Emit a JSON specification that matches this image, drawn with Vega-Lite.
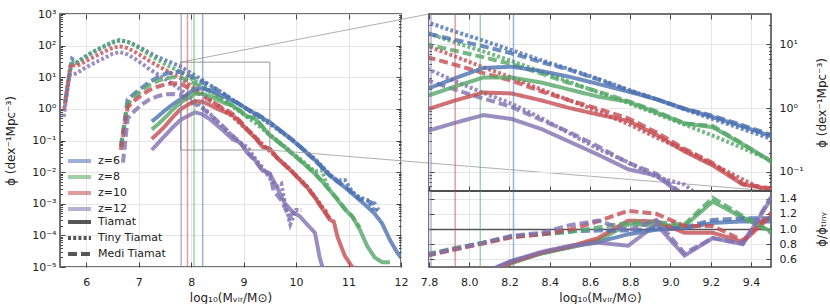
{
"$schema":"https://vega.github.io/schema/vega-lite/v6.json",
"background":"white",
"padding":{"left":3,"top":7,"right":0,"bottom":0},
"config":{
 "font":"DejaVu Sans",
 "view":{"stroke":"#444","strokeWidth":1.5},
 "axis":{"labelFont":"DejaVu Sans","titleFont":"DejaVu Sans","labelFontSize":11,"titleFontSize":12,"titleFontWeight":"normal","labelColor":"#222","titleColor":"#222","gridColor":"#e6e6e6","gridWidth":1,"domain":false,"tickColor":"#444","labelOverlap":false,"labelFlush":false},
 "legend":{"labelFont":"DejaVu Sans","labelFontSize":11,"labelColor":"#222"}
},
"datasets":{
 "curves":[
{"sim":"Tiny Tiamat","z":"z=6","logM":5.60,"logPhi":0.25},{"sim":"Tiny Tiamat","z":"z=6","logM":5.73,"logPhi":1.58},{"sim":"Tiny Tiamat","z":"z=6","logM":5.82,"logPhi":1.48},{"sim":"Tiny Tiamat","z":"z=6","logM":5.93,"logPhi":1.60},{"sim":"Tiny Tiamat","z":"z=6","logM":6.07,"logPhi":1.74},{"sim":"Tiny Tiamat","z":"z=6","logM":6.21,"logPhi":1.86},{"sim":"Tiny Tiamat","z":"z=6","logM":6.36,"logPhi":1.98},{"sim":"Tiny Tiamat","z":"z=6","logM":6.50,"logPhi":2.09},{"sim":"Tiny Tiamat","z":"z=6","logM":6.64,"logPhi":2.16},{"sim":"Tiny Tiamat","z":"z=6","logM":6.79,"logPhi":2.12},{"sim":"Tiny Tiamat","z":"z=6","logM":6.93,"logPhi":2.02},{"sim":"Tiny Tiamat","z":"z=6","logM":7.07,"logPhi":1.90},{"sim":"Tiny Tiamat","z":"z=6","logM":7.21,"logPhi":1.77},{"sim":"Tiny Tiamat","z":"z=6","logM":7.36,"logPhi":1.64},{"sim":"Tiny Tiamat","z":"z=6","logM":7.50,"logPhi":1.54},{"sim":"Tiny Tiamat","z":"z=6","logM":7.64,"logPhi":1.45},{"sim":"Tiny Tiamat","z":"z=6","logM":7.79,"logPhi":1.35},{"sim":"Tiny Tiamat","z":"z=6","logM":7.93,"logPhi":1.20},{"sim":"Tiny Tiamat","z":"z=6","logM":8.07,"logPhi":1.06},{"sim":"Tiny Tiamat","z":"z=6","logM":8.21,"logPhi":0.91},{"sim":"Tiny Tiamat","z":"z=6","logM":8.36,"logPhi":0.75},{"sim":"Tiny Tiamat","z":"z=6","logM":8.50,"logPhi":0.61},{"sim":"Tiny Tiamat","z":"z=6","logM":8.64,"logPhi":0.46},{"sim":"Tiny Tiamat","z":"z=6","logM":8.79,"logPhi":0.29},{"sim":"Tiny Tiamat","z":"z=6","logM":8.93,"logPhi":0.14},{"sim":"Tiny Tiamat","z":"z=6","logM":9.07,"logPhi":-0.02},{"sim":"Tiny Tiamat","z":"z=6","logM":9.21,"logPhi":-0.17},{"sim":"Tiny Tiamat","z":"z=6","logM":9.36,"logPhi":-0.33},{"sim":"Tiny Tiamat","z":"z=6","logM":9.50,"logPhi":-0.48},{"sim":"Tiny Tiamat","z":"z=6","logM":9.64,"logPhi":-0.64},{"sim":"Tiny Tiamat","z":"z=6","logM":9.79,"logPhi":-0.82},{"sim":"Tiny Tiamat","z":"z=6","logM":9.93,"logPhi":-1.00},{"sim":"Tiny Tiamat","z":"z=6","logM":10.07,"logPhi":-1.18},{"sim":"Tiny Tiamat","z":"z=6","logM":10.21,"logPhi":-1.38},{"sim":"Tiny Tiamat","z":"z=6","logM":10.36,"logPhi":-1.58},{"sim":"Tiny Tiamat","z":"z=6","logM":10.50,"logPhi":-1.83},{"sim":"Tiny Tiamat","z":"z=6","logM":10.64,"logPhi":-2.07},{"sim":"Tiny Tiamat","z":"z=6","logM":10.79,"logPhi":-2.27},{"sim":"Tiny Tiamat","z":"z=6","logM":10.93,"logPhi":-2.25},{"sim":"Tiny Tiamat","z":"z=6","logM":11.07,"logPhi":-2.62},{"sim":"Tiny Tiamat","z":"z=6","logM":11.21,"logPhi":-2.80},{"sim":"Tiny Tiamat","z":"z=6","logM":11.36,"logPhi":-2.88},{"sim":"Tiny Tiamat","z":"z=6","logM":11.50,"logPhi":-3.25},{"sim":"Tiny Tiamat","z":"z=6","logM":11.57,"logPhi":-3.10},
{"sim":"Tiny Tiamat","z":"z=8","logM":5.60,"logPhi":0.20},{"sim":"Tiny Tiamat","z":"z=8","logM":5.72,"logPhi":1.50},{"sim":"Tiny Tiamat","z":"z=8","logM":5.82,"logPhi":1.45},{"sim":"Tiny Tiamat","z":"z=8","logM":5.93,"logPhi":1.58},{"sim":"Tiny Tiamat","z":"z=8","logM":6.07,"logPhi":1.74},{"sim":"Tiny Tiamat","z":"z=8","logM":6.21,"logPhi":1.88},{"sim":"Tiny Tiamat","z":"z=8","logM":6.36,"logPhi":2.00},{"sim":"Tiny Tiamat","z":"z=8","logM":6.50,"logPhi":2.12},{"sim":"Tiny Tiamat","z":"z=8","logM":6.64,"logPhi":2.18},{"sim":"Tiny Tiamat","z":"z=8","logM":6.79,"logPhi":2.12},{"sim":"Tiny Tiamat","z":"z=8","logM":6.93,"logPhi":2.00},{"sim":"Tiny Tiamat","z":"z=8","logM":7.07,"logPhi":1.85},{"sim":"Tiny Tiamat","z":"z=8","logM":7.21,"logPhi":1.70},{"sim":"Tiny Tiamat","z":"z=8","logM":7.36,"logPhi":1.55},{"sim":"Tiny Tiamat","z":"z=8","logM":7.50,"logPhi":1.42},{"sim":"Tiny Tiamat","z":"z=8","logM":7.64,"logPhi":1.30},{"sim":"Tiny Tiamat","z":"z=8","logM":7.79,"logPhi":1.18},{"sim":"Tiny Tiamat","z":"z=8","logM":7.93,"logPhi":1.03},{"sim":"Tiny Tiamat","z":"z=8","logM":8.07,"logPhi":0.89},{"sim":"Tiny Tiamat","z":"z=8","logM":8.21,"logPhi":0.74},{"sim":"Tiny Tiamat","z":"z=8","logM":8.36,"logPhi":0.57},{"sim":"Tiny Tiamat","z":"z=8","logM":8.50,"logPhi":0.41},{"sim":"Tiny Tiamat","z":"z=8","logM":8.64,"logPhi":0.25},{"sim":"Tiny Tiamat","z":"z=8","logM":8.79,"logPhi":0.08},{"sim":"Tiny Tiamat","z":"z=8","logM":8.93,"logPhi":-0.09},{"sim":"Tiny Tiamat","z":"z=8","logM":9.07,"logPhi":-0.26},{"sim":"Tiny Tiamat","z":"z=8","logM":9.21,"logPhi":-0.43},{"sim":"Tiny Tiamat","z":"z=8","logM":9.36,"logPhi":-0.63},{"sim":"Tiny Tiamat","z":"z=8","logM":9.50,"logPhi":-0.82},{"sim":"Tiny Tiamat","z":"z=8","logM":9.64,"logPhi":-1.00},{"sim":"Tiny Tiamat","z":"z=8","logM":9.79,"logPhi":-1.20},{"sim":"Tiny Tiamat","z":"z=8","logM":9.93,"logPhi":-1.40},{"sim":"Tiny Tiamat","z":"z=8","logM":10.07,"logPhi":-1.58},{"sim":"Tiny Tiamat","z":"z=8","logM":10.21,"logPhi":-1.78},{"sim":"Tiny Tiamat","z":"z=8","logM":10.36,"logPhi":-1.98},{"sim":"Tiny Tiamat","z":"z=8","logM":10.50,"logPhi":-1.95},{"sim":"Tiny Tiamat","z":"z=8","logM":10.57,"logPhi":-2.35},{"sim":"Tiny Tiamat","z":"z=8","logM":10.64,"logPhi":-2.50},
{"sim":"Tiny Tiamat","z":"z=10","logM":5.58,"logPhi":0.00},{"sim":"Tiny Tiamat","z":"z=10","logM":5.70,"logPhi":1.40},{"sim":"Tiny Tiamat","z":"z=10","logM":5.82,"logPhi":1.35},{"sim":"Tiny Tiamat","z":"z=10","logM":5.93,"logPhi":1.45},{"sim":"Tiny Tiamat","z":"z=10","logM":6.07,"logPhi":1.58},{"sim":"Tiny Tiamat","z":"z=10","logM":6.21,"logPhi":1.70},{"sim":"Tiny Tiamat","z":"z=10","logM":6.36,"logPhi":1.82},{"sim":"Tiny Tiamat","z":"z=10","logM":6.50,"logPhi":1.93},{"sim":"Tiny Tiamat","z":"z=10","logM":6.64,"logPhi":1.98},{"sim":"Tiny Tiamat","z":"z=10","logM":6.79,"logPhi":1.92},{"sim":"Tiny Tiamat","z":"z=10","logM":6.93,"logPhi":1.80},{"sim":"Tiny Tiamat","z":"z=10","logM":7.07,"logPhi":1.66},{"sim":"Tiny Tiamat","z":"z=10","logM":7.21,"logPhi":1.51},{"sim":"Tiny Tiamat","z":"z=10","logM":7.36,"logPhi":1.37},{"sim":"Tiny Tiamat","z":"z=10","logM":7.50,"logPhi":1.24},{"sim":"Tiny Tiamat","z":"z=10","logM":7.64,"logPhi":1.11},{"sim":"Tiny Tiamat","z":"z=10","logM":7.79,"logPhi":0.98},{"sim":"Tiny Tiamat","z":"z=10","logM":7.93,"logPhi":0.81},{"sim":"Tiny Tiamat","z":"z=10","logM":8.07,"logPhi":0.64},{"sim":"Tiny Tiamat","z":"z=10","logM":8.21,"logPhi":0.48},{"sim":"Tiny Tiamat","z":"z=10","logM":8.36,"logPhi":0.29},{"sim":"Tiny Tiamat","z":"z=10","logM":8.50,"logPhi":0.12},{"sim":"Tiny Tiamat","z":"z=10","logM":8.64,"logPhi":-0.05},{"sim":"Tiny Tiamat","z":"z=10","logM":8.79,"logPhi":-0.25},{"sim":"Tiny Tiamat","z":"z=10","logM":8.93,"logPhi":-0.46},{"sim":"Tiny Tiamat","z":"z=10","logM":9.07,"logPhi":-0.66},{"sim":"Tiny Tiamat","z":"z=10","logM":9.21,"logPhi":-0.88},{"sim":"Tiny Tiamat","z":"z=10","logM":9.36,"logPhi":-1.12},{"sim":"Tiny Tiamat","z":"z=10","logM":9.50,"logPhi":-1.34},{"sim":"Tiny Tiamat","z":"z=10","logM":9.64,"logPhi":-1.55},{"sim":"Tiny Tiamat","z":"z=10","logM":9.79,"logPhi":-1.76},{"sim":"Tiny Tiamat","z":"z=10","logM":9.93,"logPhi":-1.98},{"sim":"Tiny Tiamat","z":"z=10","logM":10.07,"logPhi":-2.22},{"sim":"Tiny Tiamat","z":"z=10","logM":10.21,"logPhi":-2.45},{"sim":"Tiny Tiamat","z":"z=10","logM":10.36,"logPhi":-2.78},{"sim":"Tiny Tiamat","z":"z=10","logM":10.50,"logPhi":-3.10},{"sim":"Tiny Tiamat","z":"z=10","logM":10.60,"logPhi":-3.30},
{"sim":"Tiny Tiamat","z":"z=12","logM":5.57,"logPhi":-0.25},{"sim":"Tiny Tiamat","z":"z=12","logM":5.68,"logPhi":1.08},{"sim":"Tiny Tiamat","z":"z=12","logM":5.82,"logPhi":1.12},{"sim":"Tiny Tiamat","z":"z=12","logM":5.93,"logPhi":1.25},{"sim":"Tiny Tiamat","z":"z=12","logM":6.07,"logPhi":1.38},{"sim":"Tiny Tiamat","z":"z=12","logM":6.21,"logPhi":1.50},{"sim":"Tiny Tiamat","z":"z=12","logM":6.36,"logPhi":1.62},{"sim":"Tiny Tiamat","z":"z=12","logM":6.50,"logPhi":1.74},{"sim":"Tiny Tiamat","z":"z=12","logM":6.64,"logPhi":1.80},{"sim":"Tiny Tiamat","z":"z=12","logM":6.79,"logPhi":1.72},{"sim":"Tiny Tiamat","z":"z=12","logM":6.93,"logPhi":1.58},{"sim":"Tiny Tiamat","z":"z=12","logM":7.07,"logPhi":1.42},{"sim":"Tiny Tiamat","z":"z=12","logM":7.21,"logPhi":1.25},{"sim":"Tiny Tiamat","z":"z=12","logM":7.36,"logPhi":1.10},{"sim":"Tiny Tiamat","z":"z=12","logM":7.50,"logPhi":0.95},{"sim":"Tiny Tiamat","z":"z=12","logM":7.64,"logPhi":0.79},{"sim":"Tiny Tiamat","z":"z=12","logM":7.79,"logPhi":0.62},{"sim":"Tiny Tiamat","z":"z=12","logM":7.93,"logPhi":0.42},{"sim":"Tiny Tiamat","z":"z=12","logM":8.07,"logPhi":0.24},{"sim":"Tiny Tiamat","z":"z=12","logM":8.21,"logPhi":0.07},{"sim":"Tiny Tiamat","z":"z=12","logM":8.36,"logPhi":-0.16},{"sim":"Tiny Tiamat","z":"z=12","logM":8.50,"logPhi":-0.40},{"sim":"Tiny Tiamat","z":"z=12","logM":8.64,"logPhi":-0.64},{"sim":"Tiny Tiamat","z":"z=12","logM":8.79,"logPhi":-0.85},{"sim":"Tiny Tiamat","z":"z=12","logM":8.93,"logPhi":-1.08},{"sim":"Tiny Tiamat","z":"z=12","logM":9.07,"logPhi":-1.20},{"sim":"Tiny Tiamat","z":"z=12","logM":9.21,"logPhi":-1.55},{"sim":"Tiny Tiamat","z":"z=12","logM":9.36,"logPhi":-1.85},{"sim":"Tiny Tiamat","z":"z=12","logM":9.50,"logPhi":-2.20},{"sim":"Tiny Tiamat","z":"z=12","logM":9.64,"logPhi":-2.45},{"sim":"Tiny Tiamat","z":"z=12","logM":9.72,"logPhi":-2.37},{"sim":"Tiny Tiamat","z":"z=12","logM":9.79,"logPhi":-3.00},{"sim":"Tiny Tiamat","z":"z=12","logM":9.89,"logPhi":-3.65},{"sim":"Tiny Tiamat","z":"z=12","logM":10.00,"logPhi":-3.20},{"sim":"Tiny Tiamat","z":"z=12","logM":10.10,"logPhi":-3.20},
{"sim":"Medi Tiamat","z":"z=6","logM":6.66,"logPhi":-1.20},{"sim":"Medi Tiamat","z":"z=6","logM":6.79,"logPhi":0.30},{"sim":"Medi Tiamat","z":"z=6","logM":6.93,"logPhi":0.50},{"sim":"Medi Tiamat","z":"z=6","logM":7.07,"logPhi":0.68},{"sim":"Medi Tiamat","z":"z=6","logM":7.21,"logPhi":0.85},{"sim":"Medi Tiamat","z":"z=6","logM":7.36,"logPhi":1.00},{"sim":"Medi Tiamat","z":"z=6","logM":7.50,"logPhi":1.10},{"sim":"Medi Tiamat","z":"z=6","logM":7.64,"logPhi":1.16},{"sim":"Medi Tiamat","z":"z=6","logM":7.79,"logPhi":1.17},{"sim":"Medi Tiamat","z":"z=6","logM":7.93,"logPhi":1.07},{"sim":"Medi Tiamat","z":"z=6","logM":8.07,"logPhi":0.97},{"sim":"Medi Tiamat","z":"z=6","logM":8.21,"logPhi":0.86},{"sim":"Medi Tiamat","z":"z=6","logM":8.36,"logPhi":0.72},{"sim":"Medi Tiamat","z":"z=6","logM":8.50,"logPhi":0.60},{"sim":"Medi Tiamat","z":"z=6","logM":8.64,"logPhi":0.45},{"sim":"Medi Tiamat","z":"z=6","logM":8.79,"logPhi":0.28},{"sim":"Medi Tiamat","z":"z=6","logM":8.93,"logPhi":0.14},{"sim":"Medi Tiamat","z":"z=6","logM":9.07,"logPhi":-0.01},{"sim":"Medi Tiamat","z":"z=6","logM":9.21,"logPhi":-0.12},{"sim":"Medi Tiamat","z":"z=6","logM":9.36,"logPhi":-0.27},{"sim":"Medi Tiamat","z":"z=6","logM":9.50,"logPhi":-0.42},{"sim":"Medi Tiamat","z":"z=6","logM":9.64,"logPhi":-0.62},{"sim":"Medi Tiamat","z":"z=6","logM":9.79,"logPhi":-0.80},{"sim":"Medi Tiamat","z":"z=6","logM":9.93,"logPhi":-0.98},{"sim":"Medi Tiamat","z":"z=6","logM":10.07,"logPhi":-1.18},{"sim":"Medi Tiamat","z":"z=6","logM":10.21,"logPhi":-1.40},{"sim":"Medi Tiamat","z":"z=6","logM":10.36,"logPhi":-1.62},{"sim":"Medi Tiamat","z":"z=6","logM":10.50,"logPhi":-1.86},{"sim":"Medi Tiamat","z":"z=6","logM":10.64,"logPhi":-2.10},{"sim":"Medi Tiamat","z":"z=6","logM":10.79,"logPhi":-2.30},{"sim":"Medi Tiamat","z":"z=6","logM":10.93,"logPhi":-2.45},{"sim":"Medi Tiamat","z":"z=6","logM":11.07,"logPhi":-2.65},{"sim":"Medi Tiamat","z":"z=6","logM":11.21,"logPhi":-2.85},{"sim":"Medi Tiamat","z":"z=6","logM":11.36,"logPhi":-2.92},{"sim":"Medi Tiamat","z":"z=6","logM":11.50,"logPhi":-3.00},{"sim":"Medi Tiamat","z":"z=6","logM":11.57,"logPhi":-3.20},
{"sim":"Medi Tiamat","z":"z=8","logM":6.66,"logPhi":-1.20},{"sim":"Medi Tiamat","z":"z=8","logM":6.79,"logPhi":0.15},{"sim":"Medi Tiamat","z":"z=8","logM":6.93,"logPhi":0.40},{"sim":"Medi Tiamat","z":"z=8","logM":7.07,"logPhi":0.60},{"sim":"Medi Tiamat","z":"z=8","logM":7.21,"logPhi":0.76},{"sim":"Medi Tiamat","z":"z=8","logM":7.36,"logPhi":0.88},{"sim":"Medi Tiamat","z":"z=8","logM":7.50,"logPhi":0.96},{"sim":"Medi Tiamat","z":"z=8","logM":7.64,"logPhi":1.00},{"sim":"Medi Tiamat","z":"z=8","logM":7.79,"logPhi":1.00},{"sim":"Medi Tiamat","z":"z=8","logM":7.93,"logPhi":0.90},{"sim":"Medi Tiamat","z":"z=8","logM":8.07,"logPhi":0.80},{"sim":"Medi Tiamat","z":"z=8","logM":8.21,"logPhi":0.69},{"sim":"Medi Tiamat","z":"z=8","logM":8.36,"logPhi":0.54},{"sim":"Medi Tiamat","z":"z=8","logM":8.50,"logPhi":0.39},{"sim":"Medi Tiamat","z":"z=8","logM":8.64,"logPhi":0.26},{"sim":"Medi Tiamat","z":"z=8","logM":8.79,"logPhi":0.11},{"sim":"Medi Tiamat","z":"z=8","logM":8.93,"logPhi":-0.05},{"sim":"Medi Tiamat","z":"z=8","logM":9.07,"logPhi":-0.24},{"sim":"Medi Tiamat","z":"z=8","logM":9.21,"logPhi":-0.28},{"sim":"Medi Tiamat","z":"z=8","logM":9.36,"logPhi":-0.56},{"sim":"Medi Tiamat","z":"z=8","logM":9.50,"logPhi":-0.84},{"sim":"Medi Tiamat","z":"z=8","logM":9.64,"logPhi":-1.02},{"sim":"Medi Tiamat","z":"z=8","logM":9.79,"logPhi":-1.22},{"sim":"Medi Tiamat","z":"z=8","logM":9.93,"logPhi":-1.42},{"sim":"Medi Tiamat","z":"z=8","logM":10.07,"logPhi":-1.62},{"sim":"Medi Tiamat","z":"z=8","logM":10.21,"logPhi":-1.82},{"sim":"Medi Tiamat","z":"z=8","logM":10.36,"logPhi":-2.05},{"sim":"Medi Tiamat","z":"z=8","logM":10.50,"logPhi":-2.30},{"sim":"Medi Tiamat","z":"z=8","logM":10.64,"logPhi":-2.57},{"sim":"Medi Tiamat","z":"z=8","logM":10.79,"logPhi":-2.85},{"sim":"Medi Tiamat","z":"z=8","logM":10.93,"logPhi":-3.15},{"sim":"Medi Tiamat","z":"z=8","logM":11.07,"logPhi":-3.40},{"sim":"Medi Tiamat","z":"z=8","logM":11.21,"logPhi":-3.75},
{"sim":"Medi Tiamat","z":"z=10","logM":6.66,"logPhi":-1.30},{"sim":"Medi Tiamat","z":"z=10","logM":6.79,"logPhi":0.05},{"sim":"Medi Tiamat","z":"z=10","logM":6.93,"logPhi":0.28},{"sim":"Medi Tiamat","z":"z=10","logM":7.07,"logPhi":0.45},{"sim":"Medi Tiamat","z":"z=10","logM":7.21,"logPhi":0.60},{"sim":"Medi Tiamat","z":"z=10","logM":7.36,"logPhi":0.70},{"sim":"Medi Tiamat","z":"z=10","logM":7.50,"logPhi":0.77},{"sim":"Medi Tiamat","z":"z=10","logM":7.64,"logPhi":0.81},{"sim":"Medi Tiamat","z":"z=10","logM":7.79,"logPhi":0.80},{"sim":"Medi Tiamat","z":"z=10","logM":7.93,"logPhi":0.68},{"sim":"Medi Tiamat","z":"z=10","logM":8.07,"logPhi":0.55},{"sim":"Medi Tiamat","z":"z=10","logM":8.21,"logPhi":0.43},{"sim":"Medi Tiamat","z":"z=10","logM":8.36,"logPhi":0.26},{"sim":"Medi Tiamat","z":"z=10","logM":8.50,"logPhi":0.12},{"sim":"Medi Tiamat","z":"z=10","logM":8.64,"logPhi":-0.01},{"sim":"Medi Tiamat","z":"z=10","logM":8.79,"logPhi":-0.16},{"sim":"Medi Tiamat","z":"z=10","logM":8.93,"logPhi":-0.38},{"sim":"Medi Tiamat","z":"z=10","logM":9.07,"logPhi":-0.64},{"sim":"Medi Tiamat","z":"z=10","logM":9.21,"logPhi":-0.86},{"sim":"Medi Tiamat","z":"z=10","logM":9.36,"logPhi":-1.19},{"sim":"Medi Tiamat","z":"z=10","logM":9.50,"logPhi":-1.26},{"sim":"Medi Tiamat","z":"z=10","logM":9.64,"logPhi":-1.55},{"sim":"Medi Tiamat","z":"z=10","logM":9.79,"logPhi":-1.78},{"sim":"Medi Tiamat","z":"z=10","logM":9.93,"logPhi":-2.00},{"sim":"Medi Tiamat","z":"z=10","logM":10.07,"logPhi":-2.24},{"sim":"Medi Tiamat","z":"z=10","logM":10.21,"logPhi":-2.48},{"sim":"Medi Tiamat","z":"z=10","logM":10.36,"logPhi":-2.80},{"sim":"Medi Tiamat","z":"z=10","logM":10.50,"logPhi":-3.15},{"sim":"Medi Tiamat","z":"z=10","logM":10.64,"logPhi":-3.45},{"sim":"Medi Tiamat","z":"z=10","logM":10.72,"logPhi":-3.55},
{"sim":"Medi Tiamat","z":"z=12","logM":6.70,"logPhi":-1.70},{"sim":"Medi Tiamat","z":"z=12","logM":6.79,"logPhi":-0.30},{"sim":"Medi Tiamat","z":"z=12","logM":6.93,"logPhi":-0.05},{"sim":"Medi Tiamat","z":"z=12","logM":7.07,"logPhi":0.15},{"sim":"Medi Tiamat","z":"z=12","logM":7.21,"logPhi":0.30},{"sim":"Medi Tiamat","z":"z=12","logM":7.36,"logPhi":0.40},{"sim":"Medi Tiamat","z":"z=12","logM":7.50,"logPhi":0.46},{"sim":"Medi Tiamat","z":"z=12","logM":7.64,"logPhi":0.47},{"sim":"Medi Tiamat","z":"z=12","logM":7.79,"logPhi":0.44},{"sim":"Medi Tiamat","z":"z=12","logM":7.93,"logPhi":0.29},{"sim":"Medi Tiamat","z":"z=12","logM":8.07,"logPhi":0.15},{"sim":"Medi Tiamat","z":"z=12","logM":8.21,"logPhi":0.02},{"sim":"Medi Tiamat","z":"z=12","logM":8.36,"logPhi":-0.19},{"sim":"Medi Tiamat","z":"z=12","logM":8.50,"logPhi":-0.38},{"sim":"Medi Tiamat","z":"z=12","logM":8.64,"logPhi":-0.60},{"sim":"Medi Tiamat","z":"z=12","logM":8.79,"logPhi":-0.86},{"sim":"Medi Tiamat","z":"z=12","logM":8.93,"logPhi":-1.03},{"sim":"Medi Tiamat","z":"z=12","logM":9.07,"logPhi":-1.37},{"sim":"Medi Tiamat","z":"z=12","logM":9.21,"logPhi":-1.61},{"sim":"Medi Tiamat","z":"z=12","logM":9.36,"logPhi":-1.94},{"sim":"Medi Tiamat","z":"z=12","logM":9.50,"logPhi":-2.05},{"sim":"Medi Tiamat","z":"z=12","logM":9.57,"logPhi":-2.58},{"sim":"Medi Tiamat","z":"z=12","logM":9.72,"logPhi":-2.90},{"sim":"Medi Tiamat","z":"z=12","logM":9.87,"logPhi":-3.42},{"sim":"Medi Tiamat","z":"z=12","logM":10.00,"logPhi":-3.20},
{"sim":"Tiamat","z":"z=6","logM":7.25,"logPhi":-0.40},{"sim":"Tiamat","z":"z=6","logM":7.36,"logPhi":-0.25},{"sim":"Tiamat","z":"z=6","logM":7.50,"logPhi":-0.05},{"sim":"Tiamat","z":"z=6","logM":7.64,"logPhi":0.13},{"sim":"Tiamat","z":"z=6","logM":7.79,"logPhi":0.30},{"sim":"Tiamat","z":"z=6","logM":7.93,"logPhi":0.47},{"sim":"Tiamat","z":"z=6","logM":8.07,"logPhi":0.63},{"sim":"Tiamat","z":"z=6","logM":8.21,"logPhi":0.65},{"sim":"Tiamat","z":"z=6","logM":8.36,"logPhi":0.58},{"sim":"Tiamat","z":"z=6","logM":8.50,"logPhi":0.49},{"sim":"Tiamat","z":"z=6","logM":8.64,"logPhi":0.38},{"sim":"Tiamat","z":"z=6","logM":8.79,"logPhi":0.26},{"sim":"Tiamat","z":"z=6","logM":8.93,"logPhi":0.14},{"sim":"Tiamat","z":"z=6","logM":9.07,"logPhi":-0.01},{"sim":"Tiamat","z":"z=6","logM":9.21,"logPhi":-0.14},{"sim":"Tiamat","z":"z=6","logM":9.36,"logPhi":-0.29},{"sim":"Tiamat","z":"z=6","logM":9.50,"logPhi":-0.44},{"sim":"Tiamat","z":"z=6","logM":9.64,"logPhi":-0.60},{"sim":"Tiamat","z":"z=6","logM":9.79,"logPhi":-0.80},{"sim":"Tiamat","z":"z=6","logM":9.93,"logPhi":-0.99},{"sim":"Tiamat","z":"z=6","logM":10.07,"logPhi":-1.19},{"sim":"Tiamat","z":"z=6","logM":10.21,"logPhi":-1.40},{"sim":"Tiamat","z":"z=6","logM":10.36,"logPhi":-1.62},{"sim":"Tiamat","z":"z=6","logM":10.50,"logPhi":-1.86},{"sim":"Tiamat","z":"z=6","logM":10.64,"logPhi":-2.10},{"sim":"Tiamat","z":"z=6","logM":10.79,"logPhi":-2.30},{"sim":"Tiamat","z":"z=6","logM":10.93,"logPhi":-2.48},{"sim":"Tiamat","z":"z=6","logM":11.07,"logPhi":-2.68},{"sim":"Tiamat","z":"z=6","logM":11.21,"logPhi":-2.88},{"sim":"Tiamat","z":"z=6","logM":11.36,"logPhi":-3.10},{"sim":"Tiamat","z":"z=6","logM":11.50,"logPhi":-3.32},{"sim":"Tiamat","z":"z=6","logM":11.64,"logPhi":-3.62},{"sim":"Tiamat","z":"z=6","logM":11.79,"logPhi":-4.15},{"sim":"Tiamat","z":"z=6","logM":11.93,"logPhi":-4.55},{"sim":"Tiamat","z":"z=6","logM":12.00,"logPhi":-4.70},
{"sim":"Tiamat","z":"z=8","logM":7.25,"logPhi":-0.65},{"sim":"Tiamat","z":"z=8","logM":7.36,"logPhi":-0.50},{"sim":"Tiamat","z":"z=8","logM":7.50,"logPhi":-0.28},{"sim":"Tiamat","z":"z=8","logM":7.64,"logPhi":-0.04},{"sim":"Tiamat","z":"z=8","logM":7.79,"logPhi":0.19},{"sim":"Tiamat","z":"z=8","logM":7.93,"logPhi":0.34},{"sim":"Tiamat","z":"z=8","logM":8.07,"logPhi":0.48},{"sim":"Tiamat","z":"z=8","logM":8.21,"logPhi":0.48},{"sim":"Tiamat","z":"z=8","logM":8.36,"logPhi":0.40},{"sim":"Tiamat","z":"z=8","logM":8.50,"logPhi":0.29},{"sim":"Tiamat","z":"z=8","logM":8.64,"logPhi":0.18},{"sim":"Tiamat","z":"z=8","logM":8.79,"logPhi":0.10},{"sim":"Tiamat","z":"z=8","logM":8.93,"logPhi":-0.07},{"sim":"Tiamat","z":"z=8","logM":9.07,"logPhi":-0.24},{"sim":"Tiamat","z":"z=8","logM":9.21,"logPhi":-0.30},{"sim":"Tiamat","z":"z=8","logM":9.36,"logPhi":-0.57},{"sim":"Tiamat","z":"z=8","logM":9.50,"logPhi":-0.83},{"sim":"Tiamat","z":"z=8","logM":9.64,"logPhi":-1.02},{"sim":"Tiamat","z":"z=8","logM":9.79,"logPhi":-1.22},{"sim":"Tiamat","z":"z=8","logM":9.93,"logPhi":-1.42},{"sim":"Tiamat","z":"z=8","logM":10.07,"logPhi":-1.62},{"sim":"Tiamat","z":"z=8","logM":10.21,"logPhi":-1.82},{"sim":"Tiamat","z":"z=8","logM":10.36,"logPhi":-2.05},{"sim":"Tiamat","z":"z=8","logM":10.50,"logPhi":-2.30},{"sim":"Tiamat","z":"z=8","logM":10.64,"logPhi":-2.57},{"sim":"Tiamat","z":"z=8","logM":10.79,"logPhi":-2.88},{"sim":"Tiamat","z":"z=8","logM":10.93,"logPhi":-3.18},{"sim":"Tiamat","z":"z=8","logM":11.07,"logPhi":-3.40},{"sim":"Tiamat","z":"z=8","logM":11.21,"logPhi":-3.80},{"sim":"Tiamat","z":"z=8","logM":11.36,"logPhi":-4.35},{"sim":"Tiamat","z":"z=8","logM":11.50,"logPhi":-4.70},{"sim":"Tiamat","z":"z=8","logM":11.64,"logPhi":-4.85},{"sim":"Tiamat","z":"z=8","logM":11.79,"logPhi":-4.85},
{"sim":"Tiamat","z":"z=10","logM":7.25,"logPhi":-0.95},{"sim":"Tiamat","z":"z=10","logM":7.36,"logPhi":-0.78},{"sim":"Tiamat","z":"z=10","logM":7.50,"logPhi":-0.55},{"sim":"Tiamat","z":"z=10","logM":7.64,"logPhi":-0.28},{"sim":"Tiamat","z":"z=10","logM":7.79,"logPhi":-0.02},{"sim":"Tiamat","z":"z=10","logM":7.93,"logPhi":0.12},{"sim":"Tiamat","z":"z=10","logM":8.07,"logPhi":0.245},{"sim":"Tiamat","z":"z=10","logM":8.21,"logPhi":0.23},{"sim":"Tiamat","z":"z=10","logM":8.36,"logPhi":0.12},{"sim":"Tiamat","z":"z=10","logM":8.50,"logPhi":0.00},{"sim":"Tiamat","z":"z=10","logM":8.64,"logPhi":-0.10},{"sim":"Tiamat","z":"z=10","logM":8.79,"logPhi":-0.20},{"sim":"Tiamat","z":"z=10","logM":8.93,"logPhi":-0.42},{"sim":"Tiamat","z":"z=10","logM":9.07,"logPhi":-0.68},{"sim":"Tiamat","z":"z=10","logM":9.21,"logPhi":-0.90},{"sim":"Tiamat","z":"z=10","logM":9.36,"logPhi":-1.20},{"sim":"Tiamat","z":"z=10","logM":9.50,"logPhi":-1.27},{"sim":"Tiamat","z":"z=10","logM":9.64,"logPhi":-1.55},{"sim":"Tiamat","z":"z=10","logM":9.79,"logPhi":-1.78},{"sim":"Tiamat","z":"z=10","logM":9.93,"logPhi":-2.00},{"sim":"Tiamat","z":"z=10","logM":10.07,"logPhi":-2.24},{"sim":"Tiamat","z":"z=10","logM":10.21,"logPhi":-2.48},{"sim":"Tiamat","z":"z=10","logM":10.36,"logPhi":-2.80},{"sim":"Tiamat","z":"z=10","logM":10.50,"logPhi":-3.15},{"sim":"Tiamat","z":"z=10","logM":10.64,"logPhi":-3.50},{"sim":"Tiamat","z":"z=10","logM":10.72,"logPhi":-3.57},{"sim":"Tiamat","z":"z=10","logM":10.79,"logPhi":-4.05},{"sim":"Tiamat","z":"z=10","logM":10.93,"logPhi":-4.65},{"sim":"Tiamat","z":"z=10","logM":11.07,"logPhi":-5.00},{"sim":"Tiamat","z":"z=10","logM":11.12,"logPhi":-5.10},
{"sim":"Tiamat","z":"z=12","logM":7.25,"logPhi":-1.30},{"sim":"Tiamat","z":"z=12","logM":7.36,"logPhi":-1.10},{"sim":"Tiamat","z":"z=12","logM":7.50,"logPhi":-0.85},{"sim":"Tiamat","z":"z=12","logM":7.64,"logPhi":-0.60},{"sim":"Tiamat","z":"z=12","logM":7.79,"logPhi":-0.36},{"sim":"Tiamat","z":"z=12","logM":7.93,"logPhi":-0.23},{"sim":"Tiamat","z":"z=12","logM":8.07,"logPhi":-0.11},{"sim":"Tiamat","z":"z=12","logM":8.21,"logPhi":-0.17},{"sim":"Tiamat","z":"z=12","logM":8.36,"logPhi":-0.33},{"sim":"Tiamat","z":"z=12","logM":8.50,"logPhi":-0.53},{"sim":"Tiamat","z":"z=12","logM":8.64,"logPhi":-0.73},{"sim":"Tiamat","z":"z=12","logM":8.79,"logPhi":-0.96},{"sim":"Tiamat","z":"z=12","logM":8.93,"logPhi":-1.06},{"sim":"Tiamat","z":"z=12","logM":9.07,"logPhi":-1.39},{"sim":"Tiamat","z":"z=12","logM":9.21,"logPhi":-1.61},{"sim":"Tiamat","z":"z=12","logM":9.36,"logPhi":-1.95},{"sim":"Tiamat","z":"z=12","logM":9.50,"logPhi":-2.05},{"sim":"Tiamat","z":"z=12","logM":9.64,"logPhi":-2.50},{"sim":"Tiamat","z":"z=12","logM":9.79,"logPhi":-3.00},{"sim":"Tiamat","z":"z=12","logM":9.93,"logPhi":-3.25},{"sim":"Tiamat","z":"z=12","logM":10.07,"logPhi":-3.40},{"sim":"Tiamat","z":"z=12","logM":10.21,"logPhi":-3.65},{"sim":"Tiamat","z":"z=12","logM":10.36,"logPhi":-3.92},{"sim":"Tiamat","z":"z=12","logM":10.45,"logPhi":-4.70},{"sim":"Tiamat","z":"z=12","logM":10.52,"logPhi":-5.10}
 ],
 "ratios":[
{"sim":"Tiamat","z":"z=6","logM":7.79,"ratio":0.09},{"sim":"Tiamat","z":"z=6","logM":7.93,"ratio":0.30},{"sim":"Tiamat","z":"z=6","logM":8.07,"ratio":0.42},{"sim":"Tiamat","z":"z=6","logM":8.21,"ratio":0.58},{"sim":"Tiamat","z":"z=6","logM":8.36,"ratio":0.68},{"sim":"Tiamat","z":"z=6","logM":8.50,"ratio":0.76},{"sim":"Tiamat","z":"z=6","logM":8.64,"ratio":0.83},{"sim":"Tiamat","z":"z=6","logM":8.79,"ratio":0.93},{"sim":"Tiamat","z":"z=6","logM":8.93,"ratio":0.99},{"sim":"Tiamat","z":"z=6","logM":9.07,"ratio":1.01},{"sim":"Tiamat","z":"z=6","logM":9.21,"ratio":1.08},{"sim":"Tiamat","z":"z=6","logM":9.36,"ratio":1.10},{"sim":"Tiamat","z":"z=6","logM":9.50,"ratio":1.10},
{"sim":"Tiamat","z":"z=8","logM":7.79,"ratio":0.10},{"sim":"Tiamat","z":"z=8","logM":7.93,"ratio":0.20},{"sim":"Tiamat","z":"z=8","logM":8.07,"ratio":0.39},{"sim":"Tiamat","z":"z=8","logM":8.21,"ratio":0.55},{"sim":"Tiamat","z":"z=8","logM":8.36,"ratio":0.68},{"sim":"Tiamat","z":"z=8","logM":8.50,"ratio":0.76},{"sim":"Tiamat","z":"z=8","logM":8.64,"ratio":0.85},{"sim":"Tiamat","z":"z=8","logM":8.79,"ratio":1.06},{"sim":"Tiamat","z":"z=8","logM":8.93,"ratio":1.05},{"sim":"Tiamat","z":"z=8","logM":9.07,"ratio":1.04},{"sim":"Tiamat","z":"z=8","logM":9.21,"ratio":1.36},{"sim":"Tiamat","z":"z=8","logM":9.36,"ratio":1.15},{"sim":"Tiamat","z":"z=8","logM":9.50,"ratio":0.97},
{"sim":"Tiamat","z":"z=10","logM":7.79,"ratio":0.10},{"sim":"Tiamat","z":"z=10","logM":7.93,"ratio":0.20},{"sim":"Tiamat","z":"z=10","logM":8.07,"ratio":0.40},{"sim":"Tiamat","z":"z=10","logM":8.21,"ratio":0.56},{"sim":"Tiamat","z":"z=10","logM":8.36,"ratio":0.69},{"sim":"Tiamat","z":"z=10","logM":8.50,"ratio":0.77},{"sim":"Tiamat","z":"z=10","logM":8.64,"ratio":0.88},{"sim":"Tiamat","z":"z=10","logM":8.79,"ratio":1.11},{"sim":"Tiamat","z":"z=10","logM":8.93,"ratio":1.10},{"sim":"Tiamat","z":"z=10","logM":9.07,"ratio":0.95},{"sim":"Tiamat","z":"z=10","logM":9.21,"ratio":0.95},{"sim":"Tiamat","z":"z=10","logM":9.36,"ratio":0.83},{"sim":"Tiamat","z":"z=10","logM":9.50,"ratio":1.17},
{"sim":"Tiamat","z":"z=12","logM":7.79,"ratio":0.10},{"sim":"Tiamat","z":"z=12","logM":7.93,"ratio":0.20},{"sim":"Tiamat","z":"z=12","logM":8.07,"ratio":0.42},{"sim":"Tiamat","z":"z=12","logM":8.21,"ratio":0.58},{"sim":"Tiamat","z":"z=12","logM":8.36,"ratio":0.70},{"sim":"Tiamat","z":"z=12","logM":8.50,"ratio":0.78},{"sim":"Tiamat","z":"z=12","logM":8.64,"ratio":0.82},{"sim":"Tiamat","z":"z=12","logM":8.79,"ratio":0.78},{"sim":"Tiamat","z":"z=12","logM":8.93,"ratio":1.06},{"sim":"Tiamat","z":"z=12","logM":9.07,"ratio":0.65},{"sim":"Tiamat","z":"z=12","logM":9.21,"ratio":0.88},{"sim":"Tiamat","z":"z=12","logM":9.36,"ratio":0.80},{"sim":"Tiamat","z":"z=12","logM":9.50,"ratio":1.40},
{"sim":"Medi Tiamat","z":"z=6","logM":7.79,"ratio":0.66},{"sim":"Medi Tiamat","z":"z=6","logM":7.93,"ratio":0.74},{"sim":"Medi Tiamat","z":"z=6","logM":8.07,"ratio":0.82},{"sim":"Medi Tiamat","z":"z=6","logM":8.21,"ratio":0.90},{"sim":"Medi Tiamat","z":"z=6","logM":8.36,"ratio":0.93},{"sim":"Medi Tiamat","z":"z=6","logM":8.50,"ratio":0.97},{"sim":"Medi Tiamat","z":"z=6","logM":8.64,"ratio":0.98},{"sim":"Medi Tiamat","z":"z=6","logM":8.79,"ratio":0.98},{"sim":"Medi Tiamat","z":"z=6","logM":8.93,"ratio":1.00},{"sim":"Medi Tiamat","z":"z=6","logM":9.07,"ratio":1.02},{"sim":"Medi Tiamat","z":"z=6","logM":9.21,"ratio":1.12},{"sim":"Medi Tiamat","z":"z=6","logM":9.36,"ratio":1.14},{"sim":"Medi Tiamat","z":"z=6","logM":9.50,"ratio":1.14},
{"sim":"Medi Tiamat","z":"z=8","logM":7.79,"ratio":0.67},{"sim":"Medi Tiamat","z":"z=8","logM":7.93,"ratio":0.75},{"sim":"Medi Tiamat","z":"z=8","logM":8.07,"ratio":0.82},{"sim":"Medi Tiamat","z":"z=8","logM":8.21,"ratio":0.90},{"sim":"Medi Tiamat","z":"z=8","logM":8.36,"ratio":0.93},{"sim":"Medi Tiamat","z":"z=8","logM":8.50,"ratio":0.96},{"sim":"Medi Tiamat","z":"z=8","logM":8.64,"ratio":1.02},{"sim":"Medi Tiamat","z":"z=8","logM":8.79,"ratio":1.08},{"sim":"Medi Tiamat","z":"z=8","logM":8.93,"ratio":1.09},{"sim":"Medi Tiamat","z":"z=8","logM":9.07,"ratio":1.06},{"sim":"Medi Tiamat","z":"z=8","logM":9.21,"ratio":1.41},{"sim":"Medi Tiamat","z":"z=8","logM":9.36,"ratio":1.17},{"sim":"Medi Tiamat","z":"z=8","logM":9.50,"ratio":0.95},
{"sim":"Medi Tiamat","z":"z=10","logM":7.79,"ratio":0.65},{"sim":"Medi Tiamat","z":"z=10","logM":7.93,"ratio":0.73},{"sim":"Medi Tiamat","z":"z=10","logM":8.07,"ratio":0.81},{"sim":"Medi Tiamat","z":"z=10","logM":8.21,"ratio":0.89},{"sim":"Medi Tiamat","z":"z=10","logM":8.36,"ratio":0.93},{"sim":"Medi Tiamat","z":"z=10","logM":8.50,"ratio":0.99},{"sim":"Medi Tiamat","z":"z=10","logM":8.64,"ratio":1.10},{"sim":"Medi Tiamat","z":"z=10","logM":8.79,"ratio":1.24},{"sim":"Medi Tiamat","z":"z=10","logM":8.93,"ratio":1.20},{"sim":"Medi Tiamat","z":"z=10","logM":9.07,"ratio":1.04},{"sim":"Medi Tiamat","z":"z=10","logM":9.21,"ratio":1.04},{"sim":"Medi Tiamat","z":"z=10","logM":9.36,"ratio":0.85},{"sim":"Medi Tiamat","z":"z=10","logM":9.50,"ratio":1.21},
{"sim":"Medi Tiamat","z":"z=12","logM":7.79,"ratio":0.66},{"sim":"Medi Tiamat","z":"z=12","logM":7.93,"ratio":0.74},{"sim":"Medi Tiamat","z":"z=12","logM":8.07,"ratio":0.82},{"sim":"Medi Tiamat","z":"z=12","logM":8.21,"ratio":0.91},{"sim":"Medi Tiamat","z":"z=12","logM":8.36,"ratio":0.95},{"sim":"Medi Tiamat","z":"z=12","logM":8.50,"ratio":1.05},{"sim":"Medi Tiamat","z":"z=12","logM":8.64,"ratio":1.11},{"sim":"Medi Tiamat","z":"z=12","logM":8.79,"ratio":0.98},{"sim":"Medi Tiamat","z":"z=12","logM":8.93,"ratio":1.12},{"sim":"Medi Tiamat","z":"z=12","logM":9.07,"ratio":0.68},{"sim":"Medi Tiamat","z":"z=12","logM":9.21,"ratio":0.88},{"sim":"Medi Tiamat","z":"z=12","logM":9.36,"ratio":0.81},{"sim":"Medi Tiamat","z":"z=12","logM":9.50,"ratio":1.42}
 ],
 "vlines":[{"z":"z=12","logM":7.81},{"z":"z=10","logM":7.93},{"z":"z=8","logM":8.055},{"z":"z=6","logM":8.22}],
 "box":[{"logM":7.8,"logM2":9.5,"logPhi":-1.301,"logPhi2":1.477}],
 "conn":[{"logM":7.8,"logPhi":1.477,"logM2":12.534,"logPhi2":3.0},{"logM":9.5,"logPhi":-1.301,"logM2":19.053,"logPhi2":-2.597}]
},
"spacing":28,
"bounds":"flush",
"resolve":{"scale":{"color":"independent","strokeDash":"independent"},"legend":{"color":"independent","strokeDash":"independent"}},
"hconcat":[
 {
  "width":341,"height":253,
  "resolve":{"axis":{"x":"independent","y":"independent"}},
  "layer":[
   {"data":{"name":"curves"},"mark":{"type":"line","strokeWidth":4,"opacity":0.8,"clip":true},
    "encoding":{
     "x":{"field":"logM","type":"quantitative","scale":{"domain":[5.5,12],"nice":false,"zero":false},
      "axis":{"orient":"bottom","title":"log₁₀(Mᵥᵢᵣ/M⊙)","values":[6,7,8,9,10,11,12],"tickSize":-5,"labelPadding":14,"titleY":30,"titleBaseline":"middle","labelOverlap":false,"labelFlush":false}},
     "y":{"field":"logPhi","type":"quantitative","scale":{"domain":[-5,3],"nice":false,"zero":false},
      "axis":{"orient":"left","title":"ϕ (dex⁻¹Mpc⁻³)","titleX":-50,"titleBaseline":"middle","labelPadding":9,"labelOverlap":false,"labelFlush":false,
       "values":[-5,-4.699,-4.523,-4.398,-4.301,-4.222,-4.155,-4.097,-4.046,-4,-3.699,-3.523,-3.398,-3.301,-3.222,-3.155,-3.097,-3.046,-3,-2.699,-2.523,-2.398,-2.301,-2.222,-2.155,-2.097,-2.046,-2,-1.699,-1.523,-1.398,-1.301,-1.222,-1.155,-1.097,-1.046,-1,-0.699,-0.523,-0.398,-0.301,-0.222,-0.155,-0.097,-0.046,0,0.301,0.477,0.602,0.699,0.778,0.845,0.903,0.954,1,1.301,1.477,1.602,1.699,1.778,1.845,1.903,1.954,2,2.301,2.477,2.602,2.699,2.778,2.845,2.903,2.954,3],
       "labelExpr":"abs(datum.value-round(datum.value))<0.001 ? '10' + (round(datum.value)<0 ? '⁻' : '') + ['⁰','¹','²','³','⁴','⁵','⁶','⁷','⁸','⁹'][abs(round(datum.value))] : ''",
       "tickSize":{"condition":{"test":"abs(datum.value-round(datum.value))<0.001","value":-5},"value":-2.5},
       "gridOpacity":{"condition":{"test":"abs(datum.value-round(datum.value))<0.001","value":1},"value":0}}},
     "color":{"field":"z","type":"nominal","scale":{"domain":["z=6","z=8","z=10","z=12"],"range":["#4C72B0","#55A868","#C44E52","#8172B2"]},
      "legend":{"title":null,"orient":"none","legendX":12.5,"legendY":140,"padding":0,"symbolType":"M-2.3,0H2.3","symbolStrokeWidth":4,"symbolSize":100,"symbolOpacity":0.85,"rowPadding":0,"labelOffset":11.5,"labelFontSize":11}},
     "strokeDash":{"field":"sim","type":"nominal","scale":{"domain":["Tiamat","Tiny Tiamat","Medi Tiamat"],"range":[[1,0],[3,2.2],[9,4]]},
      "legend":{"title":null,"orient":"none","legendX":12.5,"legendY":201,"padding":0,"symbolType":"M-2.3,0H2.3","symbolStrokeWidth":4,"symbolSize":100,"symbolStrokeColor":"#444","symbolOpacity":0.9,"rowPadding":0,"labelOffset":11.5,"labelFontSize":11}}}},
   {"data":{"name":"box"},"mark":{"type":"rect","fill":null,"stroke":"#999","strokeWidth":1},
    "encoding":{
     "x":{"field":"logM","type":"quantitative","axis":{"orient":"top","title":null,"labels":false,"grid":false,"values":[6,7,8,9,10,11,12],"tickSize":-5}},
     "x2":{"field":"logM2"},
     "y":{"field":"logPhi","type":"quantitative",
      "axis":{"orient":"right","title":null,"labels":false,"grid":false,
       "values":[-4.699,-4.523,-4.398,-4.301,-4.222,-4.155,-4.097,-4.046,-4,-3.699,-3.523,-3.398,-3.301,-3.222,-3.155,-3.097,-3.046,-3,-2.699,-2.523,-2.398,-2.301,-2.222,-2.155,-2.097,-2.046,-2,-1.699,-1.523,-1.398,-1.301,-1.222,-1.155,-1.097,-1.046,-1,-0.699,-0.523,-0.398,-0.301,-0.222,-0.155,-0.097,-0.046,0,0.301,0.477,0.602,0.699,0.778,0.845,0.903,0.954,1,1.301,1.477,1.602,1.699,1.778,1.845,1.903,1.954,2,2.301,2.477,2.602,2.699,2.778,2.845,2.903,2.954],
       "tickSize":{"condition":{"test":"abs(datum.value-round(datum.value))<0.001","value":-5},"value":-2.5}}},
     "y2":{"field":"logPhi2"}}},
   {"data":{"name":"conn"},"mark":{"type":"rule","stroke":"#999","strokeWidth":0.8,"clip":false},
    "encoding":{"x":{"field":"logM","type":"quantitative","axis":null},"x2":{"field":"logM2"},"y":{"field":"logPhi","type":"quantitative","axis":null},"y2":{"field":"logPhi2"}}},
   {"data":{"name":"vlines"},"mark":{"type":"rule","strokeWidth":1.5,"opacity":0.55},
    "encoding":{"x":{"field":"logM","type":"quantitative","axis":null},
     "color":{"field":"z","type":"nominal","scale":{"domain":["z=6","z=8","z=10","z=12"],"range":["#4C72B0","#55A868","#C44E52","#8172B2"]}}}}
  ]
 },
 {
  "spacing":0,
  "bounds":"flush",
  "vconcat":[
   {
    "width":342,"height":177,
    "resolve":{"axis":{"x":"independent","y":"independent"}},
    "layer":[
     {"data":{"name":"curves"},"mark":{"type":"line","strokeWidth":4,"opacity":0.8,"clip":true},
      "encoding":{
       "x":{"field":"logM","type":"quantitative","scale":{"domain":[7.8,9.5],"nice":false,"zero":false},
        "axis":{"orient":"bottom","title":null,"labels":false,"values":[7.8,8.0,8.2,8.4,8.6,8.8,9.0,9.2,9.4],"tickSize":-5}},
       "y":{"field":"logPhi","type":"quantitative","scale":{"domain":[-1.301,1.477],"nice":false,"zero":false},
        "axis":{"orient":"right","title":"ϕ (dex⁻¹Mpc⁻³)","titleAngle":270,"titleX":50,"titleBaseline":"middle","labelPadding":13,"labelOverlap":false,
         "values":[-1.222,-1.155,-1.097,-1.046,-1,-0.699,-0.523,-0.398,-0.301,-0.222,-0.155,-0.097,-0.046,0,0.301,0.477,0.602,0.699,0.778,0.845,0.903,0.954,1,1.301],
         "labelExpr":"abs(datum.value-round(datum.value))<0.001 ? '10' + (round(datum.value)<0 ? '⁻' : '') + ['⁰','¹','²','³','⁴','⁵','⁶','⁷','⁸','⁹'][abs(round(datum.value))] : ''",
         "tickSize":{"condition":{"test":"abs(datum.value-round(datum.value))<0.001","value":-5},"value":-2.5},
         "gridOpacity":{"condition":{"test":"abs(datum.value-round(datum.value))<0.001","value":1},"value":0}}},
       "color":{"field":"z","type":"nominal","scale":{"domain":["z=6","z=8","z=10","z=12"],"range":["#4C72B0","#55A868","#C44E52","#8172B2"]},"legend":null},
       "strokeDash":{"field":"sim","type":"nominal","scale":{"domain":["Tiamat","Tiny Tiamat","Medi Tiamat"],"range":[[1,0],[3,2.2],[9,4]]},"legend":null}}},
     {"data":{"name":"box"},"mark":{"type":"rect","fill":null,"stroke":null},
      "encoding":{
       "x":{"field":"logM","type":"quantitative","axis":{"orient":"top","title":null,"labels":false,"grid":false,"values":[7.8,8.0,8.2,8.4,8.6,8.8,9.0,9.2,9.4],"tickSize":-5}},
       "x2":{"field":"logM2"},
       "y":{"field":"logPhi","type":"quantitative",
        "axis":{"orient":"left","title":null,"labels":false,"grid":false,
         "values":[-1.222,-1.155,-1.097,-1.046,-1,-0.699,-0.523,-0.398,-0.301,-0.222,-0.155,-0.097,-0.046,0,0.301,0.477,0.602,0.699,0.778,0.845,0.903,0.954,1,1.301],
         "tickSize":{"condition":{"test":"abs(datum.value-round(datum.value))<0.001","value":-5},"value":-2.5}}},
       "y2":{"field":"logPhi2"}}},
     {"data":{"name":"vlines"},"mark":{"type":"rule","strokeWidth":1.5,"opacity":0.55},
      "encoding":{"x":{"field":"logM","type":"quantitative","axis":null},
       "color":{"field":"z","type":"nominal","scale":{"domain":["z=6","z=8","z=10","z=12"],"range":["#4C72B0","#55A868","#C44E52","#8172B2"]},"legend":null}}}
    ]
   },
   {
    "width":342,"height":76,
    "resolve":{"axis":{"x":"independent","y":"independent"}},
    "layer":[
     {"data":{"name":"ratios"},"mark":{"type":"line","strokeWidth":4,"opacity":0.8,"clip":true},
      "encoding":{
       "x":{"field":"logM","type":"quantitative","scale":{"domain":[7.8,9.5],"nice":false,"zero":false},
        "axis":{"orient":"bottom","title":"log₁₀(Mᵥᵢᵣ/M⊙)","values":[7.8,8.0,8.2,8.4,8.6,8.8,9.0,9.2,9.4],"labelExpr":"format(datum.value,'.1f')","tickSize":-5,"labelPadding":14,"titleY":30,"titleBaseline":"middle","labelOverlap":false,"labelFlush":false}},
       "y":{"field":"ratio","type":"quantitative","scale":{"domain":[0.5,1.5],"nice":false,"zero":false},
        "axis":{"orient":"right","title":"ϕ/ϕₜᵢₙᵧ","titleAngle":270,"titleX":50,"titleBaseline":"middle","labelPadding":13,"labelOverlap":false,"labelFlush":false,
         "values":[0.6,0.8,1.0,1.2,1.4],"labelExpr":"format(datum.value,'.1f')","tickSize":-5,
         "gridColor":{"condition":{"test":"abs(datum.value-1)<0.001","value":"#555"},"value":"#e6e6e6"},
         "gridWidth":{"condition":{"test":"abs(datum.value-1)<0.001","value":1.6},"value":1}}},
       "color":{"field":"z","type":"nominal","scale":{"domain":["z=6","z=8","z=10","z=12"],"range":["#4C72B0","#55A868","#C44E52","#8172B2"]},"legend":null},
       "strokeDash":{"field":"sim","type":"nominal","scale":{"domain":["Tiamat","Tiny Tiamat","Medi Tiamat"],"range":[[1,0],[3,2.2],[9,4]]},"legend":null}}},
     {"data":{"name":"ratios"},"mark":{"type":"point","opacity":0,"clip":true},
      "encoding":{
       "x":{"field":"logM","type":"quantitative","axis":null},
       "y":{"field":"ratio","type":"quantitative","axis":{"orient":"left","title":null,"labels":false,"grid":false,"values":[0.6,0.8,1.0,1.2,1.4],"tickSize":-5}}}},
     {"data":{"name":"vlines"},"mark":{"type":"rule","strokeWidth":1.5,"opacity":0.55},
      "encoding":{"x":{"field":"logM","type":"quantitative","axis":null},
       "color":{"field":"z","type":"nominal","scale":{"domain":["z=6","z=8","z=10","z=12"],"range":["#4C72B0","#55A868","#C44E52","#8172B2"]},"legend":null}}}
    ]
   }
  ]
 }
]
}
